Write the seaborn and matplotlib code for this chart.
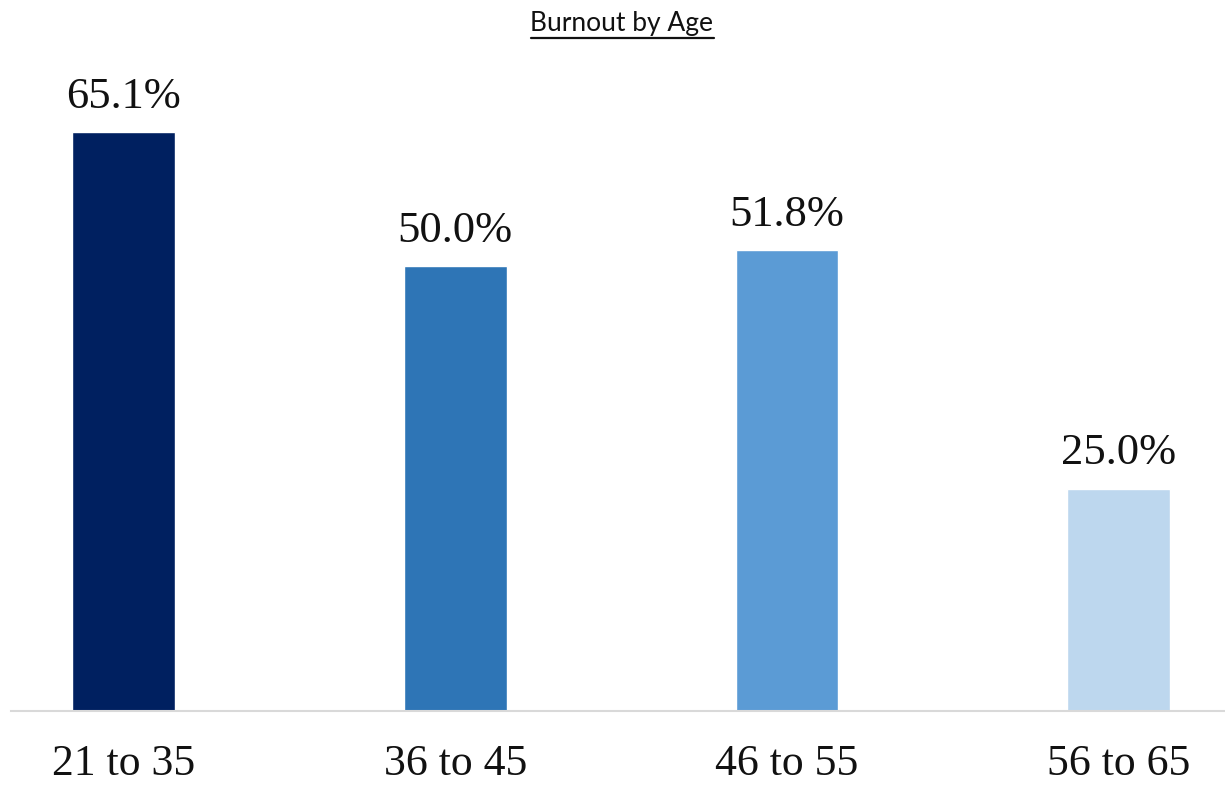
import matplotlib
matplotlib.use("Agg")
import matplotlib.pyplot as plt
import seaborn as sns
import pandas as pd
from matplotlib.lines import Line2D

categories = ["21 to 35", "36 to 45", "46 to 55", "56 to 65"]
values = [65.1, 50.0, 51.8, 25.0]
colors = ["#002060", "#2E75B6", "#5B9BD5", "#BDD7EE"]
title = "Burnout by Age"

sns.set_theme(style="white")
df = pd.DataFrame({"age": categories, "pct": values})

fig = plt.figure(figsize=(12.25, 7.85), dpi=100)
ax = fig.add_axes([11 / 1225, 1 - 711 / 785, 1 - 11 / 1225, (711 - 44) / 785])

sns.barplot(data=df, x="age", y="pct", hue="age", palette=colors, legend=False,
            width=0.31, saturation=1, ax=ax, order=categories, hue_order=categories)

ax.set_xlim(-0.339, 3.32)
ax.set_ylim(0, 75)
ax.set_xlabel("")
ax.set_ylabel("")
ax.set_yticks([])
for s in ["top", "right", "left"]:
    ax.spines[s].set_visible(False)
ax.spines["bottom"].set_color("#d9d9d9")
ax.spines["bottom"].set_linewidth(1.5)
ax.tick_params(axis="x", length=0, pad=24)
for lbl in ax.get_xticklabels():
    lbl.set_fontfamily("Liberation Serif")
    lbl.set_fontsize(31.5)
    lbl.set_color("#111111")

for i, v in enumerate(values):
    ax.annotate(f"{v:.1f}%", xy=(i, v), xytext=(0, 11), textcoords="offset points",
                ha="center", va="bottom", fontsize=32, family="Liberation Serif",
                color="#111111")

t = fig.text(622 / 1225, 1 - 24 / 785, title, ha="center", va="center",
             fontsize=19, family="Lato", color="#111111")
fig.canvas.draw()
bb = t.get_window_extent()
inv = fig.transFigure.inverted()
(x0, y0), (x1, y1) = inv.transform([[bb.x0, bb.y0], [bb.x1, bb.y0]])
y_line = 1 - 37.5 / 785
fig.add_artist(Line2D([x0, x1], [y_line, y_line], transform=fig.transFigure,
                      color="#111111", linewidth=1.6))

fig.savefig("out.png", dpi=100)
